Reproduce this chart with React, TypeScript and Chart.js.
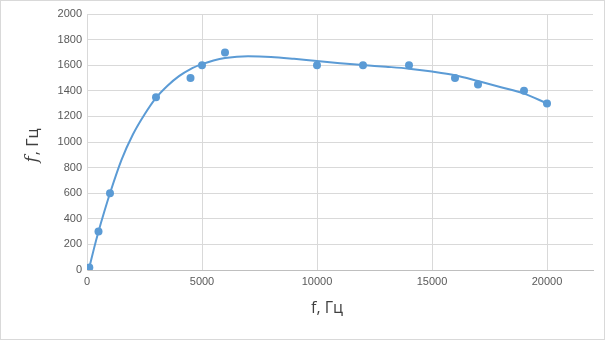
import React, { useEffect, useRef } from "react";
import { Chart, registerables } from "chart.js";

Chart.register(...registerables);

// measured points
const pointX = [100, 500, 1000, 3000, 4500, 5000, 6000, 10000, 12000, 14000, 16000, 17000, 19000, 20000];
const pointY = [20, 300, 600, 1350, 1500, 1600, 1700, 1600, 1600, 1600, 1500, 1450, 1400, 1300];

// trendline
const trendX = [100, 300, 500, 750, 1000, 1500, 2000, 2500, 3000, 3500, 4000, 4500, 5000, 5500, 6000, 7000, 8000, 9000, 10000, 11000, 12000, 13000, 14000, 15000, 16000, 17000, 18000, 19000, 20000];
const trendY = [20, 165, 300, 455, 600, 860, 1060, 1215, 1345, 1440, 1515, 1570, 1608, 1637, 1656, 1670, 1665, 1650, 1632, 1616, 1601, 1588, 1573, 1550, 1521, 1476, 1428, 1378, 1302];

const xTicks = [0, 5000, 10000, 15000, 20000];
const xMax = 22000;
const yMax = 2000;
const yStep = 200;

const xTitle = "f, Гц";
const yTitleItalic = "f";
const yTitleRest = ", Гц";

const COLOR = "#5b9bd5";
const GRID = "#d9d9d9";
const TICK = "#595959";

export default function App() {
  const ref = useRef<HTMLCanvasElement | null>(null);

  useEffect(() => {
    const canvas = ref.current;
    if (!canvas) return;

    const titles = {
      id: "titles",
      afterDraw(chart: any) {
        const ctx = chart.ctx;
        ctx.save();
        ctx.fillStyle = "#404040";
        ctx.textBaseline = "middle";
        // x title
        ctx.font = "16px 'Open Sans'";
        ctx.textAlign = "center";
        ctx.fillText(xTitle, 327, 308);
        // y title (rotated)
        ctx.translate(33, 146);
        ctx.rotate(-Math.PI / 2);
        ctx.font = "italic 17px 'DejaVu Serif'";
        const w1 = ctx.measureText(yTitleItalic).width;
        ctx.font = "16px 'Open Sans'";
        const w2 = ctx.measureText(yTitleRest).width;
        const start = -(w1 + w2) / 2;
        ctx.textAlign = "left";
        ctx.font = "italic 17px 'DejaVu Serif'";
        ctx.fillText(yTitleItalic, start, 0);
        ctx.font = "16px 'Open Sans'";
        ctx.fillText(yTitleRest, start + w1 + 1, 0);
        ctx.restore();
      },
    };

    const chart = new Chart(canvas, {
      type: "scatter",
      data: {
        datasets: [
          {
            label: "trend",
            data: trendX.map((x, i) => ({ x, y: trendY[i] })),
            showLine: true,
            borderColor: COLOR,
            borderWidth: 2,
            pointRadius: 0,
            tension: 0.4,
            cubicInterpolationMode: "monotone",
            fill: false,
          } as any,
          {
            label: "points",
            data: pointX.map((x, i) => ({ x, y: pointY[i] })),
            showLine: false,
            backgroundColor: COLOR,
            borderColor: COLOR,
            pointRadius: 4,
            pointBorderWidth: 0,
          },
        ],
      },
      plugins: [titles],
      options: {
        animation: false,
        responsive: false,
        maintainAspectRatio: false,
        layout: { padding: { left: 0, top: 14, right: 12, bottom: 0 } },
        plugins: {
          legend: { display: false },
          tooltip: { enabled: false },
        },
        scales: {
          x: {
            type: "linear",
            min: 0,
            max: xMax,
            afterBuildTicks(scale: any) {
              scale.ticks = xTicks.map((v) => ({ value: v }));
            },
            afterFit(scale: any) {
              scale.height = 70;
              scale.paddingLeft = 0;
              scale.paddingRight = 0;
            },
            grid: { color: GRID, lineWidth: 1, drawTicks: false },
            border: { color: "#bfbfbf", width: 1 },
            ticks: {
              color: TICK,
              font: { family: "'Liberation Sans'", size: 11 },
              padding: 5,
              maxRotation: 0,
              autoSkip: false,
              callback: (v: any) => String(v),
            },
          },
          y: {
            type: "linear",
            min: 0,
            max: yMax,
            afterFit(scale: any) {
              scale.width = 87;
              scale.paddingTop = 0;
              scale.paddingBottom = 0;
            },
            grid: { color: GRID, lineWidth: 1, drawTicks: false },
            border: { color: GRID, width: 1 },
            ticks: {
              stepSize: yStep,
              color: TICK,
              font: { family: "'Liberation Sans'", size: 11 },
              padding: 5,
              callback: (v: any) => String(v),
            },
          },
        },
      },
    });
    return () => chart.destroy();
  }, []);

  return (
    <div style={{ position: "fixed", left: 0, top: 0, width: 605, height: 340, background: "#fff" }}>
      <canvas ref={ref} width={605} height={340} style={{ width: 605, height: 340, display: "block" }} />
      <div
        style={{
          position: "absolute",
          inset: 0,
          border: "1px solid #d9d9d9",
          pointerEvents: "none",
        }}
      />
    </div>
  );
}
